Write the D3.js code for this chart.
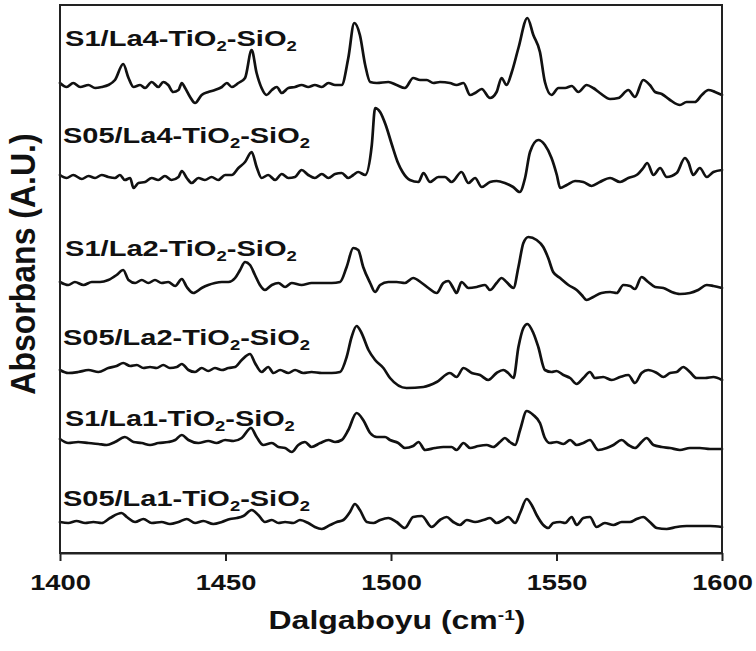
<!DOCTYPE html>
<html>
<head>
<meta charset="utf-8">
<script src="https://cdn.jsdelivr.net/npm/d3@7/dist/d3.min.js"></script>
<style>
  html, body { margin: 0; padding: 0; background: #fff; }
  svg { display: block; }
  text { font-family: "Liberation Sans", Arial, sans-serif; font-weight: bold; fill: #111; }
</style>
</head>
<body>
<svg id="chart" width="756" height="651"></svg>
<script>
// ---------------- DATA ----------------
const xTicks = [1400, 1450, 1500, 1550, 1600];
const xTickLabels = ["1400", "1450", "1500", "1550", "1600"];
const xTitle = "Dalgaboyu (cm";
const xTitleSup = "-1";
const yTitle = "Absorbans (A.U.)";

const seriesNames = ["S1/La4", "S05/La4", "S1/La2", "S05/La2", "S1/La1", "S05/La1"];

// S1/La4-TiO2-SiO2
const waveS1La4 = [1400.0,1402.0,1404.0,1406.1,1408.6,1410.6,1412.6,1414.6,1416.6,1419.1,1420.7,1422.2,1424.2,1425.7,1427.7,1429.7,1431.2,1432.7,1434.2,1435.8,1436.8,1437.8,1439.3,1440.8,1442.8,1444.8,1446.8,1448.9,1450.4,1451.9,1453.9,1455.9,1457.9,1459.4,1460.9,1462.4,1464.0,1465.5,1467.0,1469.0,1471.0,1473.0,1475.0,1477.0,1479.1,1481.1,1483.1,1485.1,1487.1,1488.9,1490.6,1492.2,1493.7,1495.7,1499.2,1501.7,1504.2,1506.7,1508.8,1510.8,1512.8,1514.8,1517.8,1519.8,1521.9,1523.9,1525.4,1527.4,1529.9,1531.9,1533.4,1534.9,1536.5,1538.5,1541.2,1543.0,1545.0,1546.5,1548.5,1550.6,1552.6,1554.6,1556.6,1559.1,1561.1,1563.1,1566.2,1568.7,1571.7,1573.7,1576.2,1578.2,1579.8,1581.8,1584.3,1587.3,1589.3,1591.8,1593.9,1595.9,1597.9,1600.0];
const absS1La4 = [4.69,4.65,4.69,4.65,4.67,4.64,4.65,4.67,4.72,4.88,4.74,4.65,4.67,4.64,4.70,4.65,4.70,4.67,4.60,4.62,4.69,4.64,4.55,4.49,4.57,4.60,4.62,4.65,4.69,4.65,4.69,4.74,5.02,4.79,4.64,4.57,4.62,4.65,4.59,4.64,4.65,4.67,4.65,4.67,4.65,4.69,4.67,4.67,4.94,5.29,5.17,4.87,4.70,4.69,4.70,4.67,4.64,4.74,4.72,4.72,4.69,4.70,4.69,4.67,4.69,4.57,4.59,4.63,4.54,4.60,4.74,4.67,4.80,5.04,5.34,5.17,5.00,4.70,4.57,4.64,4.64,4.66,4.60,4.67,4.64,4.59,4.53,4.54,4.62,4.55,4.72,4.67,4.60,4.58,4.52,4.47,4.50,4.50,4.57,4.62,4.60,4.57];

// S05/La4-TiO2-SiO2
const waveS05La4 = [1400.0,1402.0,1404.0,1406.6,1408.6,1410.6,1412.6,1414.6,1416.6,1418.1,1419.6,1421.2,1422.2,1423.7,1425.7,1427.7,1429.7,1431.7,1433.7,1435.8,1436.8,1438.3,1439.8,1441.8,1443.8,1445.8,1447.8,1449.9,1451.9,1453.9,1455.9,1457.9,1459.4,1460.9,1462.9,1465.0,1467.0,1469.0,1471.0,1473.0,1475.0,1477.0,1479.1,1481.1,1483.1,1485.1,1487.1,1488.6,1490.1,1492.2,1494.2,1495.2,1496.7,1498.4,1500.2,1502.0,1503.5,1505.7,1508.3,1509.8,1511.8,1514.3,1516.3,1518.3,1521.3,1523.4,1525.4,1527.4,1529.9,1531.9,1534.4,1536.9,1538.9,1540.5,1542.0,1544.5,1546.5,1548.5,1550.1,1551.1,1553.1,1555.6,1558.1,1560.6,1563.1,1566.2,1569.2,1571.7,1574.2,1576.2,1577.4,1579.3,1581.3,1583.3,1586.3,1588.8,1589.8,1591.3,1593.3,1595.4,1597.4,1600.0];
const absS05La4 = [3.77,3.74,3.77,3.73,3.76,3.74,3.77,3.75,3.74,3.77,3.72,3.74,3.64,3.69,3.70,3.74,3.72,3.76,3.72,3.75,3.81,3.74,3.69,3.74,3.72,3.75,3.72,3.77,3.77,3.84,3.90,4.00,3.85,3.74,3.77,3.72,3.78,3.74,3.75,3.82,3.77,3.74,3.78,3.74,3.78,3.79,3.74,3.77,3.80,3.77,4.07,4.44,4.40,4.27,4.08,3.90,3.80,3.72,3.70,3.79,3.70,3.75,3.75,3.70,3.80,3.69,3.74,3.65,3.70,3.71,3.69,3.65,3.60,3.74,4.00,4.12,4.07,3.94,3.77,3.64,3.67,3.71,3.70,3.66,3.70,3.74,3.70,3.74,3.77,3.84,3.89,3.77,3.84,3.75,3.79,3.94,3.90,3.77,3.84,3.75,3.80,3.82];

// S1/La2-TiO2-SiO2
const waveS1La2 = [1400.0,1402.5,1404.5,1407.1,1409.6,1412.1,1414.6,1417.1,1419.1,1420.7,1422.7,1424.7,1426.7,1428.7,1430.7,1432.7,1434.8,1436.8,1438.3,1440.3,1442.8,1444.8,1446.8,1448.9,1450.9,1452.9,1454.4,1455.9,1457.4,1458.9,1460.4,1461.9,1464.0,1466.0,1468.0,1470.0,1473.0,1476.0,1479.1,1482.1,1484.6,1486.6,1488.6,1490.1,1491.6,1493.7,1495.2,1496.7,1499.2,1501.7,1504.2,1506.7,1509.3,1511.3,1513.8,1515.8,1517.3,1518.8,1519.8,1521.3,1523.4,1525.9,1528.4,1529.9,1531.9,1533.4,1534.9,1537.0,1538.5,1540.0,1541.5,1544.0,1546.0,1547.5,1549.0,1551.1,1553.6,1556.1,1557.6,1559.1,1561.1,1563.6,1566.2,1568.2,1570.2,1572.2,1573.7,1575.7,1577.7,1579.8,1582.3,1584.8,1587.3,1590.3,1592.8,1595.4,1597.4,1600.0];
const absS1La2 = [2.70,2.67,2.70,2.67,2.70,2.70,2.72,2.77,2.82,2.72,2.69,2.72,2.69,2.72,2.69,2.70,2.66,2.73,2.65,2.59,2.64,2.67,2.69,2.70,2.70,2.74,2.82,2.90,2.87,2.77,2.67,2.62,2.67,2.69,2.65,2.69,2.67,2.69,2.69,2.69,2.70,2.85,3.04,3.02,2.85,2.69,2.60,2.67,2.70,2.70,2.69,2.74,2.69,2.64,2.59,2.69,2.71,2.64,2.59,2.70,2.64,2.65,2.67,2.62,2.69,2.74,2.70,2.64,2.85,3.09,3.15,3.12,3.05,2.94,2.80,2.74,2.67,2.62,2.57,2.52,2.55,2.59,2.60,2.59,2.67,2.66,2.63,2.75,2.70,2.65,2.64,2.60,2.58,2.59,2.62,2.67,2.66,2.64];

// S05/La2-TiO2-SiO2
const waveS05La2 = [1400.0,1402.5,1405.5,1408.6,1411.6,1414.6,1417.1,1419.1,1421.2,1423.2,1425.2,1427.2,1429.2,1431.2,1433.2,1435.3,1436.8,1438.8,1440.8,1442.8,1444.8,1446.8,1448.9,1450.9,1452.9,1454.9,1457.4,1458.9,1460.9,1462.9,1464.5,1466.5,1469.0,1471.0,1473.5,1476.0,1479.1,1482.1,1484.6,1486.6,1488.1,1489.6,1491.1,1493.2,1495.2,1497.7,1499.7,1504.7,1509.8,1513.8,1517.8,1519.8,1521.9,1524.4,1526.9,1529.4,1531.9,1533.9,1535.4,1537.0,1538.5,1540.0,1541.2,1543.0,1544.5,1546.5,1548.5,1550.0,1552.1,1554.1,1556.1,1558.1,1560.1,1561.6,1564.1,1566.7,1569.2,1571.7,1573.7,1575.7,1577.7,1580.3,1582.3,1584.3,1586.3,1588.3,1590.3,1592.3,1594.9,1597.4,1600.0];
const absS05La2 = [1.82,1.79,1.80,1.82,1.80,1.84,1.86,1.89,1.86,1.87,1.84,1.85,1.84,1.87,1.84,1.85,1.88,1.82,1.80,1.84,1.81,1.84,1.82,1.84,1.85,1.92,1.98,1.89,1.80,1.85,1.79,1.82,1.79,1.82,1.79,1.80,1.79,1.79,1.80,1.95,2.15,2.26,2.19,2.02,1.92,1.84,1.74,1.64,1.65,1.70,1.79,1.75,1.84,1.79,1.77,1.72,1.79,1.82,1.79,1.74,2.05,2.24,2.28,2.19,2.05,1.82,1.80,1.81,1.77,1.74,1.68,1.74,1.80,1.74,1.75,1.72,1.75,1.77,1.69,1.79,1.82,1.79,1.75,1.79,1.80,1.85,1.80,1.74,1.74,1.75,1.72];

// S1/La1-TiO2-SiO2
const waveS1La1 = [1400.0,1402.5,1405.5,1408.6,1411.6,1414.1,1416.6,1419.6,1422.2,1424.7,1427.2,1429.7,1432.7,1434.8,1436.8,1438.8,1441.8,1444.8,1447.3,1449.9,1452.4,1454.9,1457.7,1459.4,1461.4,1464.0,1466.0,1468.0,1470.0,1472.0,1474.0,1476.0,1478.6,1481.1,1483.1,1485.1,1487.1,1489.6,1491.6,1493.7,1495.7,1498.2,1499.7,1502.2,1504.2,1506.7,1508.3,1510.3,1513.3,1515.8,1518.3,1519.8,1521.9,1523.9,1526.4,1528.9,1530.9,1532.9,1534.4,1535.9,1537.5,1539.0,1541.0,1543.0,1545.0,1546.5,1548.0,1550.0,1552.1,1554.1,1556.1,1558.1,1560.1,1562.6,1565.2,1567.2,1569.7,1571.7,1573.7,1575.7,1577.2,1579.3,1581.8,1584.3,1587.3,1590.3,1593.3,1596.4,1600.0];
const absS1La1 = [1.13,1.09,1.10,1.09,1.08,1.07,1.10,1.15,1.10,1.09,1.07,1.09,1.10,1.12,1.17,1.12,1.09,1.11,1.09,1.12,1.11,1.14,1.24,1.15,1.07,1.09,1.05,1.04,1.00,1.07,1.10,1.05,1.09,1.12,1.10,1.12,1.22,1.39,1.32,1.19,1.15,1.15,1.12,1.09,1.04,1.06,1.10,1.02,1.04,1.05,1.05,1.02,1.09,1.04,1.06,1.07,1.05,1.10,1.14,1.10,1.07,1.22,1.41,1.37,1.29,1.14,1.09,1.10,1.08,1.12,1.07,1.09,1.12,1.02,1.04,1.07,1.12,1.07,1.04,1.10,1.14,1.07,1.05,1.04,1.02,1.04,1.04,1.03,1.03];

// S05/La1-TiO2-SiO2
const waveS05La1 = [1400.0,1402.5,1405.0,1407.6,1410.1,1412.6,1415.1,1418.6,1420.2,1422.7,1425.2,1427.7,1430.7,1433.2,1435.8,1438.3,1440.8,1443.3,1446.3,1448.9,1451.4,1453.4,1455.4,1457.9,1459.9,1461.9,1464.0,1466.0,1468.0,1470.5,1472.5,1475.0,1477.0,1479.1,1481.6,1483.6,1485.6,1487.6,1489.1,1490.6,1492.7,1494.7,1496.7,1499.2,1501.7,1504.2,1506.7,1509.3,1512.3,1514.8,1516.8,1518.8,1520.8,1522.9,1525.4,1527.9,1529.9,1531.9,1533.9,1535.4,1537.5,1539.0,1541.0,1542.5,1544.0,1546.0,1547.5,1549.0,1551.1,1552.6,1554.6,1556.1,1558.1,1560.1,1562.1,1564.6,1567.2,1569.7,1572.2,1574.2,1576.2,1578.2,1580.3,1583.3,1586.3,1589.3,1593.3,1596.4,1600.0];
const absS05La1 = [0.30,0.29,0.31,0.29,0.30,0.29,0.34,0.39,0.35,0.30,0.33,0.29,0.30,0.28,0.30,0.33,0.29,0.31,0.28,0.30,0.33,0.34,0.36,0.42,0.37,0.30,0.32,0.29,0.30,0.29,0.32,0.29,0.25,0.23,0.27,0.30,0.32,0.40,0.48,0.42,0.30,0.29,0.32,0.34,0.30,0.24,0.35,0.36,0.25,0.32,0.35,0.30,0.27,0.32,0.30,0.32,0.34,0.29,0.32,0.35,0.29,0.39,0.53,0.47,0.37,0.27,0.24,0.29,0.30,0.29,0.35,0.27,0.34,0.35,0.25,0.29,0.27,0.30,0.30,0.33,0.35,0.30,0.24,0.23,0.25,0.26,0.26,0.26,0.25];

const xDomain = [1400, 1600];
const yDomain = [0, 5.47];

// ---------------- LAYOUT ----------------
const plot = { left: 60, right: 722, top: 5, bottom: 553 };
const labelPos = [
  { x: 65, y: 46, w: 232 },
  { x: 63, y: 143, w: 247 },
  { x: 65, y: 256, w: 232 },
  { x: 63, y: 345, w: 247 },
  { x: 65, y: 426, w: 230 },
  { x: 63, y: 506, w: 247 }
];

const svg = d3.select("#chart");

const x = d3.scaleLinear().domain(xDomain).range([plot.left, plot.right]);
const y = d3.scaleLinear().domain(yDomain).range([552, plot.top]);

const allSeries = [
  { name: seriesNames[0], wave: waveS1La4, abs: absS1La4 },
  { name: seriesNames[1], wave: waveS05La4, abs: absS05La4 },
  { name: seriesNames[2], wave: waveS1La2, abs: absS1La2 },
  { name: seriesNames[3], wave: waveS05La2, abs: absS05La2 },
  { name: seriesNames[4], wave: waveS1La1, abs: absS1La1 },
  { name: seriesNames[5], wave: waveS05La1, abs: absS05La1 }
];

const line = d3.line()
  .x(d => x(d[0]))
  .y(d => y(d[1]))
  .curve(d3.curveMonotoneX);

// traces
svg.append("g").selectAll("path")
  .data(allSeries)
  .join("path")
  .attr("d", s => line(s.wave.map((w, i) => [w, s.abs[i]])))
  .attr("fill", "none")
  .attr("stroke", "#111")
  .attr("stroke-width", 2.7)
  .attr("stroke-linejoin", "round")
  .attr("stroke-linecap", "round");

// frame
svg.append("rect")
  .attr("x", plot.left).attr("y", plot.top)
  .attr("width", plot.right - plot.left)
  .attr("height", plot.bottom - plot.top)
  .attr("fill", "none")
  .attr("stroke", "#222")
  .attr("stroke-width", 2);

// x axis
const xAxis = d3.axisBottom(x)
  .tickValues(xTicks)
  .tickFormat((d, i) => xTickLabels[i])
  .tickSize(8)
  .tickSizeOuter(0);

const gx = svg.append("g")
  .attr("transform", `translate(0,${plot.bottom})`)
  .call(xAxis);
gx.select(".domain").attr("stroke", "#222").attr("stroke-width", 2);
gx.selectAll(".tick line").attr("stroke", "#222").attr("stroke-width", 2);
gx.selectAll(".tick text")
  .attr("y", 37)
  .attr("dy", 0)
  .attr("fill", "#111")
  .style("font-family", '"Liberation Sans", Arial, sans-serif')
  .style("font-weight", "bold")
  .style("font-size", "22px")
  .attr("transform", "scale(1.24,1)");

// x title
const xt = svg.append("text")
  .attr("text-anchor", "middle")
  .style("font-size", "25px")
  .attr("transform", `translate(397,629) scale(1.28,1)`);
xt.append("tspan").text(xTitle);
xt.append("tspan").text(xTitleSup).attr("dy", -9).style("font-size", "15px");
xt.append("tspan").text(")").attr("dy", 9);

// y title
svg.append("text")
  .attr("text-anchor", "middle")
  .style("font-size", "32px")
  .attr("transform", `translate(35,264) scale(1.12,1) rotate(-90)`)
  .text(yTitle);

// series labels
allSeries.forEach((s, i) => {
  const p = labelPos[i];
  const t = svg.append("text").style("font-size", "22px");
  t.append("tspan").text(s.name + "-TiO");
  t.append("tspan").text("2").attr("dy", 5).style("font-size", "14px");
  t.append("tspan").text("-SiO").attr("dy", -5);
  t.append("tspan").text("2").attr("dy", 5).style("font-size", "14px");
  const nat = t.node().getComputedTextLength();
  t.attr("transform", `translate(${p.x},${p.y}) scale(${p.w / nat},1)`);
});
</script>
</body>
</html>
